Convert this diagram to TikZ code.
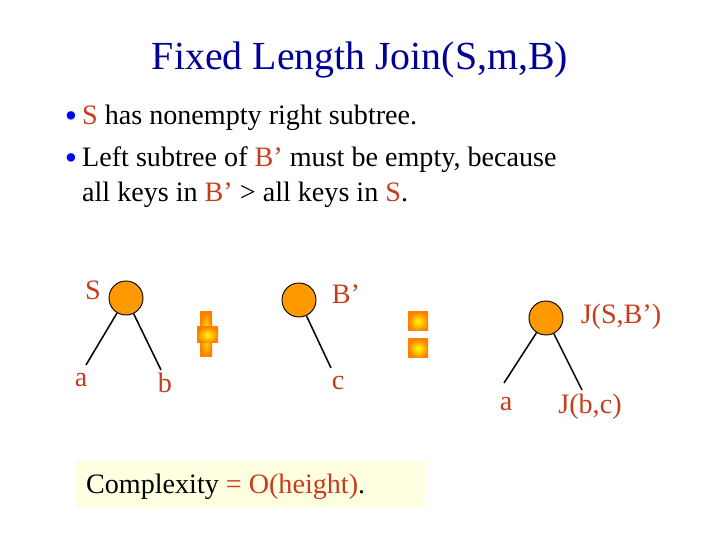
\documentclass[tikz,border=0pt]{standalone}
\usepackage{fontspec}
\setmainfont{Liberation Serif}
\usetikzlibrary{positioning}
\definecolor{titleblue}{RGB}{0,0,150}
\definecolor{keyred}{RGB}{200,60,30}
\definecolor{nodeorange}{RGB}{255,153,0}
\definecolor{boxfill}{RGB}{255,255,225}
\begin{document}
\begin{tikzpicture}[x=0.03cm, y=-0.03cm,
    % Tree node style
    keynode/.style={circle, draw=black, thick, fill=nodeorange, minimum size=1.02cm, inner sep=0pt},
    % Label style
    keylbl/.style={font=\fontsize{24}{28}\selectfont, text=keyred},
    % Edge style
    edge/.style={line width=1.3pt},
    % Bullet text style
    btxt/.style={font=\fontsize{24}{28}\selectfont, anchor=west},
    % Bullet mark style
    bmark/.style={text=blue, font=\fontsize{30}{34}\selectfont},
    % Operator glow style
    opbar/.style={inner color=yellow, outer color=orange}
]
\useasboundingbox (0,0) rectangle (720,540);

% === Title ===
\node[font=\fontsize{34}{38}\selectfont, text=titleblue] (title) at (360,60) {Fixed Length Join(S,m,B)};

% === Bullets ===
\node[bmark] (b1) at (71,120) {\textbullet};
\node[btxt] (t1) at (78,118) {\textcolor{keyred}{S} has nonempty right subtree.};
\node[bmark] (b2) at (71,162) {\textbullet};
\node[btxt] (t2) at (78,160) {Left subtree of \textcolor{keyred}{B'} must be empty, because};
\node[btxt] (t3) at (78,195) {all keys in \textcolor{keyred}{B'} > all keys in \textcolor{keyred}{S}.};

% === Tree S ===
\node[keynode] (s) at (126,298) {};
\node[keylbl] (slbl) at (93,290) {S};
\node[keylbl] (sa) at (81,380) {a};
\node[keylbl] (sb) at (165,383) {b};
\coordinate (saend) at (86,365);
\coordinate (sbend) at (161,370);
\draw[edge] (s) -- (saend);
\draw[edge] (s) -- (sbend);

% === Plus ===
\shade[opbar] (200,312) rectangle (212,357);
\shade[opbar] (197,327) rectangle (218,343);

% === Tree B' ===
\node[keynode] (bp) at (299,300) {};
\node[keylbl] (bplbl) at (346,294) {B'};
\node[keylbl] (bc) at (338,383) {c};
\coordinate (bcend) at (331,368);
\draw[edge] (bp) -- (bcend);

% === Equals ===
\shade[opbar] (408,312) rectangle (428,331);
\shade[opbar] (408,339) rectangle (428,358);

% === Tree J(S,B') ===
\node[keynode] (j) at (546,318) {};
\node[keylbl] (jlbl) at (621,317) {J(S,B')};
\node[keylbl] (ja) at (506,404) {a};
\node[keylbl] (jbc) at (590,407) {J(b,c)};
\coordinate (jaend) at (504,383);
\coordinate (jbcend) at (582,390);
\draw[edge] (j) -- (jaend);
\draw[edge] (j) -- (jbcend);

% === Complexity box ===
\fill[boxfill] (76,461) rectangle (425,508);
\node[btxt] (cplx) at (82,487) {Complexity \textcolor{keyred}{= O(height)}.};
\end{tikzpicture}
\end{document}
